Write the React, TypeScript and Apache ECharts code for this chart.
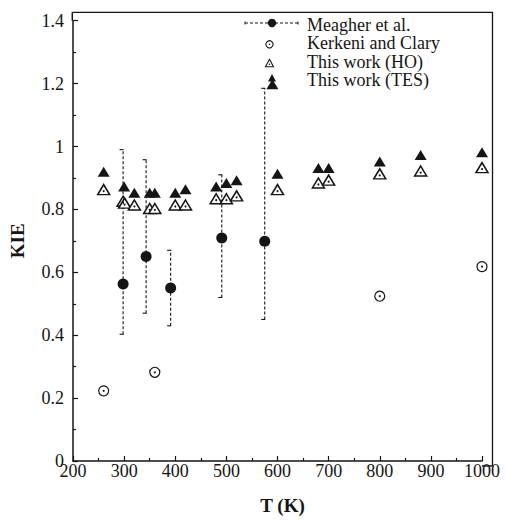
import React, { useEffect, useRef } from "react";
import * as echarts from "echarts";

// ---- Data ----
const meagherT = [298, 343, 391, 491, 575];
const meagherKIE = [0.563, 0.65, 0.55, 0.709, 0.699];
const meagherLow = [0.403, 0.47, 0.43, 0.52, 0.45];
const meagherHigh = [0.99, 0.958, 0.67, 0.91, 1.185];

const kerkeniT = [260, 360, 800, 1000];
const kerkeniKIE = [0.223, 0.282, 0.524, 0.618];

const hoT = [260, 298, 301, 320, 350, 360, 400, 420, 480, 500, 520, 600, 680, 700, 800, 880, 1000];
const hoKIE = [0.863, 0.826, 0.82, 0.814, 0.803, 0.803, 0.814, 0.814, 0.834, 0.834, 0.843, 0.863, 0.884, 0.893, 0.913, 0.922, 0.933];

const tesT = [260, 300, 320, 350, 360, 400, 420, 480, 500, 520, 590, 600, 680, 700, 800, 880, 1000];
const tesKIE = [0.92, 0.873, 0.853, 0.853, 0.853, 0.853, 0.864, 0.873, 0.884, 0.893, 1.198, 0.913, 0.932, 0.932, 0.952, 0.973, 0.982];

const xRange = [200, 1000];
const xInterval = 100;
const yRange = [0, 1.4];
const yInterval = 0.2;

const legendLabels = ["Meagher et al.", "Kerkeni and Clary", "This work (HO)", "This work (TES)"];
const xTitle = "T (K)";
const yTitle = "KIE";

const FONT = "Liberation Serif";
const INK = "#151515";

export default function App() {
  const ref = useRef<HTMLDivElement | null>(null);

  useEffect(() => {
    if (!ref.current) return;
    const chart = echarts.init(ref.current, undefined, { renderer: "svg" });

    const gridLeft = 72.3;
    const gridRight = 23;
    const gridTop = 20.7;
    const gridBottom = 54;
    const frameTop = 12.3;
    const frameRight = 492.5;
    const frameBottom = 520 - gridBottom;

    const triW = 8;
    const triH = 7;
    const tri = (cx: number, cy: number) => [
      [cx, cy - triH / 2 - 0.5],
      [cx + triW / 2, cy + triH / 2],
      [cx - triW / 2, cy + triH / 2],
    ];

    const rowY = [24.7, 43.4, 61.9, 80.4];
    const textX = 307;

    const legendGraphics: any[] = [
      {
        type: "line",
        shape: { x1: 245, y1: 23, x2: 298, y2: 23 },
        style: { stroke: INK, lineWidth: 1, lineDash: [3, 2] },
      },
      { type: "line", shape: { x1: 245, y1: 21.5, x2: 245, y2: 24.5 }, style: { stroke: INK, lineWidth: 1 } },
      { type: "line", shape: { x1: 298, y1: 21.5, x2: 298, y2: 24.5 }, style: { stroke: INK, lineWidth: 1 } },
      { type: "circle", shape: { cx: 272, cy: 23, r: 4.2 }, style: { fill: INK } },
      { type: "circle", shape: { cx: 269.5, cy: 44.3, r: 3.6 }, style: { fill: "#fff", stroke: INK, lineWidth: 1.1 } },
      { type: "circle", shape: { cx: 269.5, cy: 44.3, r: 0.7 }, style: { fill: INK } },
      { type: "polygon", shape: { points: tri(269.5, 63.3) }, style: { fill: "#fff", stroke: INK, lineWidth: 1.1 } },
      { type: "circle", shape: { cx: 269.5, cy: 64.3, r: 0.7 }, style: { fill: INK } },
      { type: "polygon", shape: { points: tri(272, 78) }, style: { fill: INK } },
    ];
    legendLabels.forEach((label, i) => {
      legendGraphics.push({
        type: "text",
        x: textX,
        y: rowY[i],
        style: {
          text: label,
          font: `18px ${FONT}`,
          fill: INK,
          verticalAlign: "middle",
          align: "left",
        },
      });
    });

    const labelRich = { t: { fontFamily: FONT, fontSize: 18, color: INK } };

    const option: any = {
      animation: false,
      backgroundColor: "#fff",
      textStyle: { fontFamily: FONT },
      grid: { left: gridLeft, right: gridRight, top: gridTop, bottom: gridBottom, containLabel: false },
      xAxis: {
        type: "value",
        min: xRange[0],
        max: xRange[1],
        interval: xInterval,
        name: xTitle,
        nameLocation: "middle",
        nameGap: 35,
        nameTextStyle: {
          fontFamily: FONT,
          fontWeight: "bold",
          fontSize: 19,
          color: INK,
          padding: [0, 0, 0, 10],
        },
        axisLine: { show: true, onZero: false, lineStyle: { color: INK, width: 1.5 } },
        axisTick: { show: true, inside: true, length: 5, lineStyle: { color: INK, width: 1.2 } },
        minorTick: { show: true, splitNumber: 2, length: 3, lineStyle: { color: INK, width: 1.2 } },
        axisLabel: {
          fontFamily: FONT,
          fontSize: 18,
          color: INK,
          margin: 1,
          formatter: (v: number) => `{t|${Math.round(v)}}`,
          rich: labelRich,
        },
        splitLine: { show: false },
        minorSplitLine: { show: false },
      },
      yAxis: {
        type: "value",
        min: yRange[0],
        max: yRange[1],
        interval: yInterval,
        name: yTitle,
        nameLocation: "middle",
        nameRotate: 90,
        nameGap: 46,
        nameTextStyle: { fontFamily: FONT, fontWeight: "bold", fontSize: 19, color: INK },
        axisLine: { show: true, onZero: false, lineStyle: { color: INK, width: 1.5 } },
        axisTick: { show: true, inside: true, length: 5, lineStyle: { color: INK, width: 1.2 } },
        minorTick: { show: true, splitNumber: 2, length: 3, lineStyle: { color: INK, width: 1.2 } },
        axisLabel: {
          fontFamily: FONT,
          fontSize: 18,
          color: INK,
          margin: 9,
          formatter: (v: number) => `{t|${Number(v.toFixed(1))}}`,
          rich: labelRich,
        },
        splitLine: { show: false },
        minorSplitLine: { show: false },
      },
      graphic: [
        {
          type: "polyline",
          shape: {
            points: [
              [gridLeft, frameTop],
              [frameRight, frameTop],
              [frameRight, frameBottom],
            ],
          },
          style: { stroke: INK, lineWidth: 1.3, fill: "none" },
          z: 10,
        },
        {
          type: "line",
          shape: { x1: gridLeft, y1: frameTop, x2: gridLeft, y2: gridTop },
          style: { stroke: INK, lineWidth: 1.5 },
        },
        {
          type: "line",
          shape: { x1: 482, y1: frameBottom, x2: frameRight, y2: frameBottom },
          style: { stroke: INK, lineWidth: 1.5 },
        },
        ...legendGraphics,
      ],
      series: [
        {
          type: "custom",
          name: "Meagher error",
          clip: false,
          data: meagherT.map((t, i) => [t, meagherLow[i], meagherHigh[i]]),
          encode: { x: 0, y: [1, 2] },
          renderItem: (_params: any, api: any) => {
            const x = api.value(0);
            const lo = api.coord([x, api.value(1)]);
            const hi = api.coord([x, api.value(2)]);
            const solid = { stroke: INK, lineWidth: 1.1 };
            return {
              type: "group",
              children: [
                {
                  type: "line",
                  shape: { x1: lo[0], y1: lo[1], x2: hi[0], y2: hi[1] },
                  style: { stroke: INK, lineWidth: 1.1, lineDash: [3, 2] },
                },
                { type: "line", shape: { x1: hi[0] - 3.5, y1: hi[1], x2: hi[0] + 0.5, y2: hi[1] }, style: solid },
                { type: "line", shape: { x1: lo[0] - 3.5, y1: lo[1], x2: lo[0] + 0.5, y2: lo[1] }, style: solid },
              ],
            };
          },
          z: 2,
        },
        {
          type: "scatter",
          name: "Meagher et al.",
          clip: false,
          symbol: "circle",
          symbolSize: 11,
          itemStyle: { color: INK, opacity: 1 },
          data: meagherT.map((t, i) => [t, meagherKIE[i]]),
          z: 3,
        },
        {
          type: "scatter",
          name: "Kerkeni and Clary",
          clip: false,
          symbol: "circle",
          symbolSize: 10,
          itemStyle: { color: "#fff", borderColor: INK, borderWidth: 1.2, opacity: 1 },
          data: kerkeniT.map((t, i) => [t, kerkeniKIE[i]]),
          z: 3,
        },
        {
          type: "scatter",
          name: "Kerkeni dot",
          clip: false,
          symbol: "circle",
          symbolSize: 2,
          itemStyle: { color: INK, opacity: 1 },
          data: kerkeniT.map((t, i) => [t, kerkeniKIE[i]]),
          z: 4,
        },
        {
          type: "scatter",
          name: "This work (HO)",
          clip: false,
          symbol: "triangle",
          symbolSize: [12, 10],
          itemStyle: { color: "#fff", borderColor: INK, borderWidth: 1.5, opacity: 1 },
          data: hoT.map((t, i) => [t, hoKIE[i]]),
          z: 3,
        },
        {
          type: "scatter",
          name: "HO dot",
          clip: false,
          symbol: "circle",
          symbolSize: 2,
          symbolOffset: [0, 1.5],
          itemStyle: { color: INK, opacity: 1 },
          data: hoT.map((t, i) => [t, hoKIE[i]]),
          z: 4,
        },
        {
          type: "scatter",
          name: "This work (TES)",
          clip: false,
          symbol: "triangle",
          symbolSize: [12, 10],
          itemStyle: { color: INK, opacity: 1 },
          data: tesT.map((t, i) => [t, tesKIE[i]]),
          z: 3,
        },
      ],
    };

    chart.setOption(option);
    return () => chart.dispose();
  }, []);

  return (
    <div
      ref={ref}
      style={{ position: "fixed", left: 0, top: 0, width: 505, height: 520, background: "#fff" }}
    />
  );
}
